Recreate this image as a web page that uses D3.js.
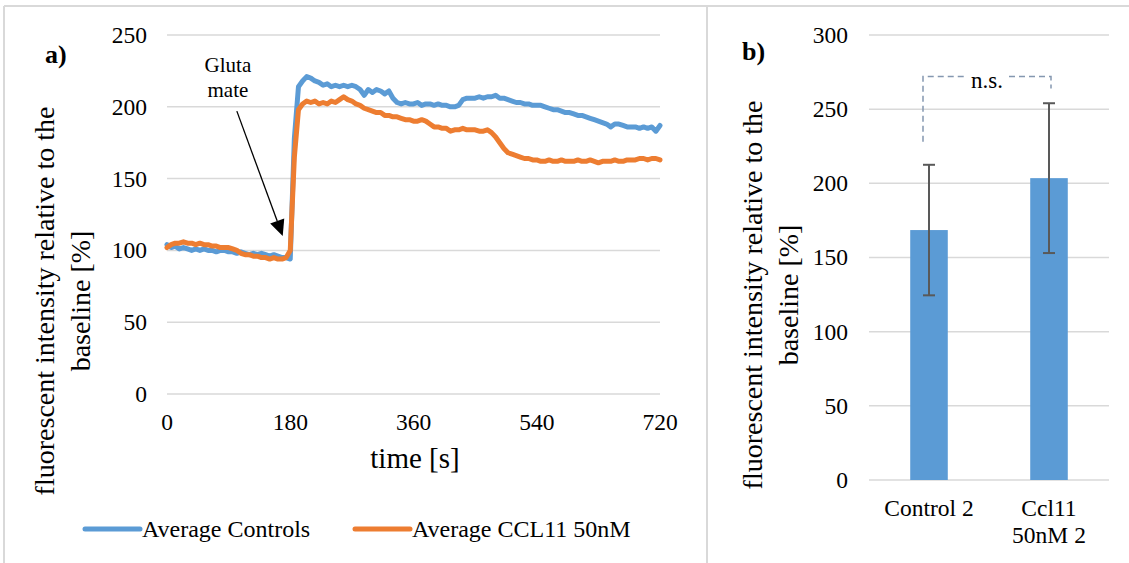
<!DOCTYPE html>
<html><head><meta charset="utf-8">
<script src="https://cdn.jsdelivr.net/npm/d3@7"></script>
<style>
body{margin:0;background:#fff}
svg{display:block}
</style></head>
<body><svg id="c" width="1129" height="563" font-family="'Liberation Serif', 'DejaVu Serif', serif"></svg>
<script>
// ---- Panel a) data ----
const times = [0,6,12,18,24,30,36,42,48,54,60,66,72,78,84,90,96,102,108,114,120,126,132,138,144,150,156,162,168,174,
180,186,192,198,204,210,216,222,228,234,240,246,252,258,264,270,276,282,288,294,300,306,312,318,324,330,336,342,348,354,
360,366,372,378,384,390,396,402,408,414,420,426,432,438,444,450,456,462,468,474,480,486,492,498,504,510,516,522,528,534,
540,546,552,558,564,570,576,582,588,594,600,606,612,618,624,630,636,642,648,654,660,666,672,678,684,690,696,702,708,714,720];
const controls = [104,102,103,101,102,101,100,101,100,101,
100,100,99,100,100,99,99,98,99,98,
97,98,97,98,97,96,97,96,95,95,
94,178,214,218,221,220,218,217,215,216,
214,215,214,215,214,215,214,212,208,212,
210,212,211,209,211,206,203,202,203,202,
202,203,201,202,202,201,202,201,201,200,
200,201,205,206,206,206,207,206,207,207,
208,206,206,205,204,203,203,202,202,201,
201,201,200,199,198,198,197,196,196,195,
194,194,193,192,191,190,189,188,186,188,
188,187,186,186,186,185,186,185,186,183,
187];
const ccl11 = [102,104,105,105,106,105,105,104,105,104,
104,103,103,102,102,102,101,100,98,97,
97,96,96,95,95,94,95,94,94,95,
100,165,198,202,204,203,204,202,203,202,
204,203,205,207,205,204,202,201,199,198,
197,196,196,194,194,193,193,192,191,191,
190,190,191,190,188,186,186,185,185,183,
184,184,185,184,184,184,183,183,184,182,
179,175,171,168,167,166,165,164,164,163,
163,162,162,163,162,162,163,162,162,162,
163,162,162,163,162,161,162,162,162,163,
162,162,163,163,163,164,164,163,164,164,
163];
const seriesNames = ["Average Controls","Average CCL11 50nM"];
const xTicksA = [0,180,360,540,720];
const yTicksA = [0,50,100,150,200,250];
const annotation = ["Gluta","mate"];
const annoTextAt = [89, 224];   // [time, value] of text
const arrowFrom = [102, 197];   // [time, value]
const arrowTo = [169, 110];

// ---- Panel b) data ----
const categoriesB = [["Control 2"],["Ccl11","50nM 2"]];
const barValues = [168.5, 203.5];
const barErrors = [44, 50.5];
const yTicksB = [0,50,100,150,200,250,300];
const sigLabel = "n.s.";
const sigLevels = {top:272, left:228, right:264};

const yTitle = ["fluorescent intensity relative to the","baseline [%]"];

const blue = "#5B9BD5", orange = "#ED7D31", grid = "#d9d9d9";
const FONT = "'Liberation Serif', 'DejaVu Serif', serif";
const svg = d3.select("#c");

// panel borders
svg.append("line").attr("x1",4).attr("x2",1129).attr("y1",6).attr("y2",6).attr("stroke",grid).attr("stroke-width",2);
svg.append("line").attr("x1",4).attr("x2",4).attr("y1",6).attr("y2",563).attr("stroke",grid).attr("stroke-width",2);
svg.append("line").attr("x1",707).attr("x2",707).attr("y1",6).attr("y2",563).attr("stroke",grid).attr("stroke-width",2);

// ===== Panel a =====
const xA = d3.scaleLinear().domain([0,720]).range([167,660]);
const yA = d3.scaleLinear().domain([0,250]).range([394,35]);
const gA = svg.append("g");
gA.append("g").selectAll("line").data(yTicksA).join("line")
  .attr("x1",xA(0)).attr("x2",xA(720)).attr("y1",d=>yA(d)).attr("y2",d=>yA(d))
  .attr("stroke",grid).attr("stroke-width",1.5);
gA.append("g").selectAll("text").data(yTicksA).join("text")
  .attr("x",147).attr("y",d=>yA(d)).attr("dy","0.34em").attr("text-anchor","end")
  .attr("font-size",23.5).text(d=>d);
gA.append("g").selectAll("text").data(xTicksA).join("text")
  .attr("x",d=>xA(d)).attr("y",430).attr("text-anchor","middle")
  .attr("font-size",23.5).text(d=>d);
gA.append("text").attr("x",415).attr("y",468).attr("text-anchor","middle").attr("font-size",29).text("time [s]");

const line = d3.line().x((d,i)=>xA(times[i])).y(d=>yA(d));
[[controls,blue],[ccl11,orange]].forEach(([s,c])=>{
  gA.append("path").datum(s).attr("d",line).attr("fill","none").attr("stroke",c)
    .attr("stroke-width",5).attr("stroke-linejoin","round").attr("stroke-linecap","round");
});

// annotation
annotation.forEach((t,i)=>{
  gA.append("text").attr("x",xA(annoTextAt[0])).attr("y",yA(annoTextAt[1])+i*25)
    .attr("text-anchor","middle").attr("font-size",21).text(t);
});
{
  const x1=xA(arrowFrom[0]), y1=yA(arrowFrom[1]), x2=xA(arrowTo[0]), y2=yA(arrowTo[1]);
  const ang=Math.atan2(y2-y1,x2-x1), L=16, W=7.5;
  const bx=x2-L*Math.cos(ang), by=y2-L*Math.sin(ang);
  gA.append("line").attr("x1",x1).attr("y1",y1).attr("x2",bx).attr("y2",by).attr("stroke","#000").attr("stroke-width",1.3);
  const px=-Math.sin(ang), py=Math.cos(ang);
  gA.append("path").attr("d",`M${x2},${y2}L${bx+px*W},${by+py*W}L${bx-px*W},${by-py*W}Z`).attr("fill","#000");
}

// a) label
svg.append("text").attr("x",45).attr("y",63).attr("font-size",26).attr("font-weight","bold").text("a)");

// y title a
yTitle.forEach((t,i)=>{
  svg.append("text").attr("transform",`translate(${54+i*36},301) rotate(-90)`)
    .attr("text-anchor","middle").attr("font-size",28).text(t);
});

// legend
[[blue,85,seriesNames[0]],[orange,355,seriesNames[1]]].forEach(([c,x,t])=>{
  svg.append("line").attr("x1",x).attr("x2",x+55).attr("y1",529).attr("y2",529)
    .attr("stroke",c).attr("stroke-width",5).attr("stroke-linecap","round");
  svg.append("text").attr("x",x+57).attr("y",537).attr("font-size",24).text(t);
});

// ===== Panel b =====
const keys = categoriesB.map(d=>d.join(" "));
const xB = d3.scaleBand().domain(keys).range([869,1109]).paddingInner(0.687).paddingOuter(0.3435);
const yB = d3.scaleLinear().domain([0,300]).range([480,35]);
const gB = svg.append("g");
gB.append("g").selectAll("line").data(yTicksB).join("line")
  .attr("x1",869).attr("x2",1109).attr("y1",d=>yB(d)).attr("y2",d=>yB(d))
  .attr("stroke",grid).attr("stroke-width",1.5);
gB.append("g").selectAll("text").data(yTicksB).join("text")
  .attr("x",848).attr("y",d=>yB(d)).attr("dy","0.34em").attr("text-anchor","end")
  .attr("font-size",23.5).text(d=>d);
gB.append("g").selectAll("rect").data(barValues).join("rect")
  .attr("x",(d,i)=>xB(keys[i])).attr("width",xB.bandwidth())
  .attr("y",d=>yB(d)).attr("height",d=>yB(0)-yB(d)).attr("fill",blue);
barValues.forEach((v,i)=>{
  const cx = xB(keys[i])+xB.bandwidth()/2;
  const e = gB.append("g").attr("stroke","#595959").attr("stroke-width",2);
  e.append("line").attr("x1",cx).attr("x2",cx).attr("y1",yB(v+barErrors[i])).attr("y2",yB(v-barErrors[i]));
  e.append("line").attr("x1",cx-6).attr("x2",cx+6).attr("y1",yB(v+barErrors[i])).attr("y2",yB(v+barErrors[i]));
  e.append("line").attr("x1",cx-6).attr("x2",cx+6).attr("y1",yB(v-barErrors[i])).attr("y2",yB(v-barErrors[i]));
});
categoriesB.forEach((lines,i)=>{
  const cx = xB(keys[i])+xB.bandwidth()/2;
  lines.forEach((t,j)=>{
    gB.append("text").attr("x",cx).attr("y",516+j*27).attr("text-anchor","middle").attr("font-size",23.5).text(t);
  });
});
{
  const lx = xB(keys[0])+xB.bandwidth()/2-6, rx = xB(keys[1])+xB.bandwidth()/2+2;
  const yt = yB(sigLevels.top);
  const mid = (lx+rx)/2;
  const s = gB.append("g").attr("stroke","#8497B0").attr("stroke-width",1.5).attr("stroke-dasharray","6,4").attr("fill","none");
  s.append("path").attr("d",`M${lx},${yB(sigLevels.left)}V${yt}H${mid-22}`);
  s.append("path").attr("d",`M${mid+22},${yt}H${rx}V${yB(sigLevels.right)}`);
  gB.append("text").attr("x",mid).attr("y",yt+11).attr("text-anchor","middle").attr("font-size",23).text(sigLabel);
}
svg.append("text").attr("x",742).attr("y",60).attr("font-size",26).attr("font-weight","bold").text("b)");
yTitle.forEach((t,i)=>{
  svg.append("text").attr("transform",`translate(${762+i*36},295) rotate(-90)`)
    .attr("text-anchor","middle").attr("font-size",28).text(t);
});
svg.selectAll("text").attr("font-family",FONT);
</script>
</body></html>
